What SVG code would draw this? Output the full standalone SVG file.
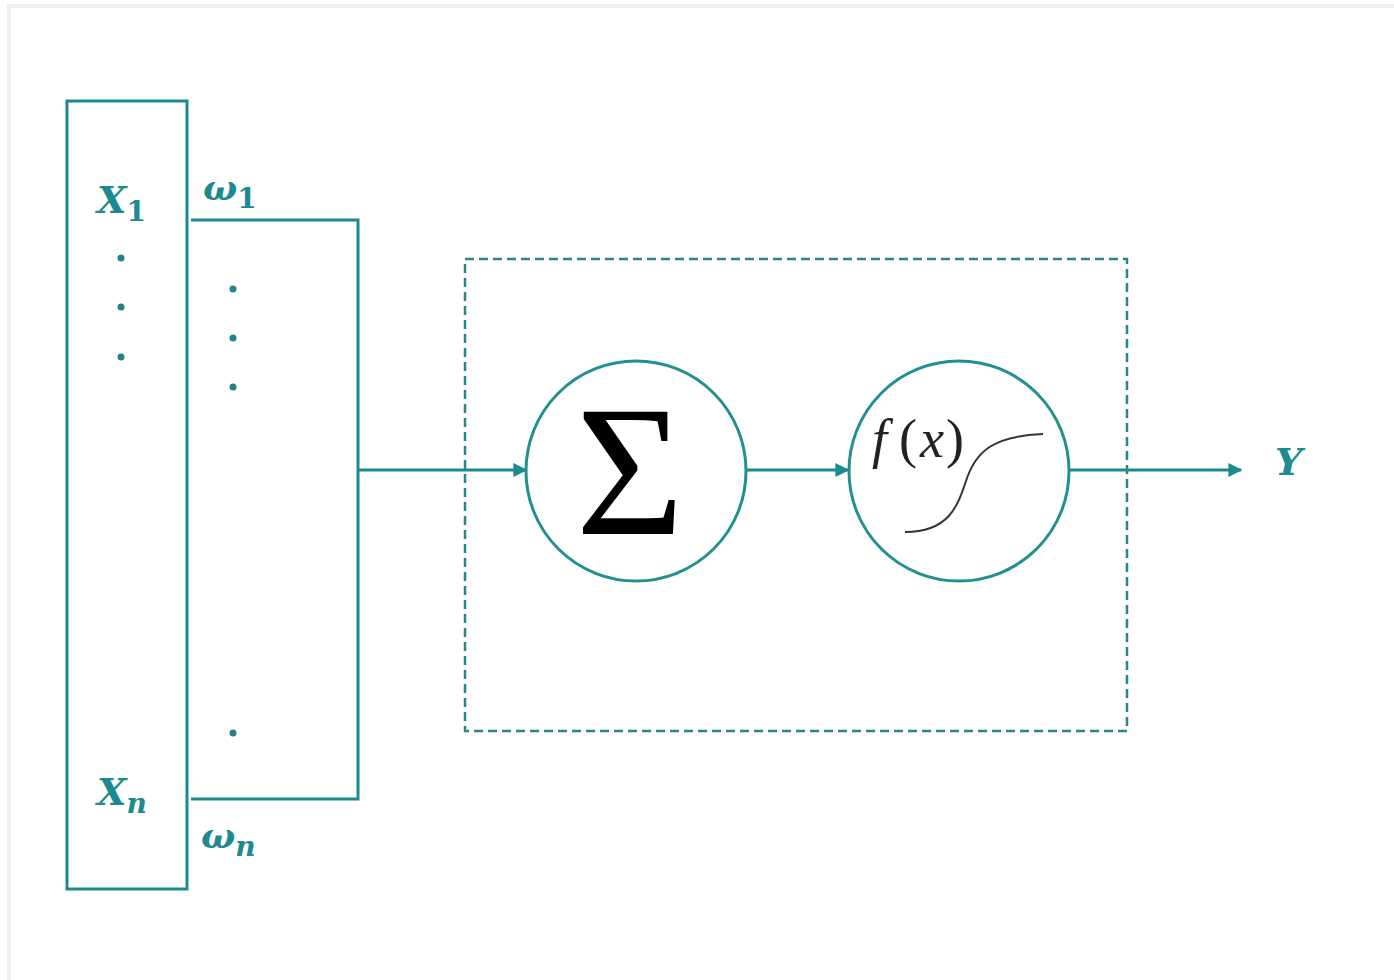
<svg xmlns="http://www.w3.org/2000/svg" width="1394" height="980" viewBox="0 0 1394 980">
<defs>
<style>
.ln{fill:none;stroke:#1c8a8f;stroke-width:3}
.dash{fill:none;stroke:#2a8686;stroke-width:2.5;stroke-dasharray:9 5}
.dot{fill:#1f8387}
.lbl{font-family:"DejaVu Serif","Liberation Serif",serif;font-style:italic;font-weight:bold;fill:#1c8a8f}
.up{font-style:normal}
.circ{fill:#fff;stroke:#23908f;stroke-width:3}
</style>
<marker id="ah" viewBox="0 0 10 10" refX="9" refY="5" markerWidth="14" markerHeight="14" markerUnits="userSpaceOnUse" orient="auto">
<path d="M0,0 L10,5 L0,10 z" fill="#1c8a8f"/>
</marker>
</defs>
<rect width="1394" height="980" fill="#fff"/>
<path d="M9,990 V6 H1400" fill="none" stroke="#f0f0f0" stroke-width="4"/>
<g id="inputs">
<rect x="67" y="101" width="120" height="788" class="ln"/>
<text x="97" y="213" class="lbl" font-size="38">X<tspan class="up" font-size="28" dy="8">1</tspan></text>
<circle cx="121" cy="258" r="3.5" class="dot"/>
<circle cx="121" cy="307" r="3.5" class="dot"/>
<circle cx="121" cy="357" r="3.5" class="dot"/>
<text x="97" y="805" class="lbl" font-size="38">X<tspan font-size="28" dy="8">n</tspan></text>
</g>
<g id="weights">
<text x="203" y="200" class="lbl" font-size="36">ω<tspan class="up" font-size="28" dy="8">1</tspan></text>
<circle cx="233" cy="289" r="3.5" class="dot"/>
<circle cx="233" cy="338" r="3.5" class="dot"/>
<circle cx="233" cy="387" r="3.5" class="dot"/>
<circle cx="233" cy="733" r="3.5" class="dot"/>
<text x="201" y="848" class="lbl" font-size="36">ω<tspan font-size="28" dy="8">n</tspan></text>
</g>
<g id="neuron">
<rect x="465" y="259" width="662" height="472" class="dash"/>
</g>
<g id="connectors">
<path d="M191,220 H358 V799 H191" class="ln"/>
<path d="M358,470 H526" class="ln" marker-end="url(#ah)"/>
<path d="M746,470 H848" class="ln" marker-end="url(#ah)"/>
<path d="M1069,470 H1241" class="ln" marker-end="url(#ah)"/>
</g>
<g id="sum">
<circle cx="636" cy="471" r="110" class="circ"/>
<text x="630" y="534" font-family="Liberation Serif,serif" font-size="186" text-anchor="middle" fill="#000">Σ</text>
</g>
<g id="activation">
<circle cx="959" cy="471" r="110" class="circ"/>
<text x="872" y="457" font-family="Liberation Serif,serif" font-style="italic" font-size="54" fill="#222">f<tspan font-style="normal" dx="12">(</tspan><tspan dx="3">x</tspan><tspan font-style="normal" dx="2">)</tspan></text>
<path d="M905,532 C950,532 958,505 967,478 C977,450 995,436 1043,434" fill="none" stroke="#333" stroke-width="2"/>
</g>
<g id="output">
<text x="1275" y="475" class="lbl" font-size="38">Y</text>
</g>
</svg>
